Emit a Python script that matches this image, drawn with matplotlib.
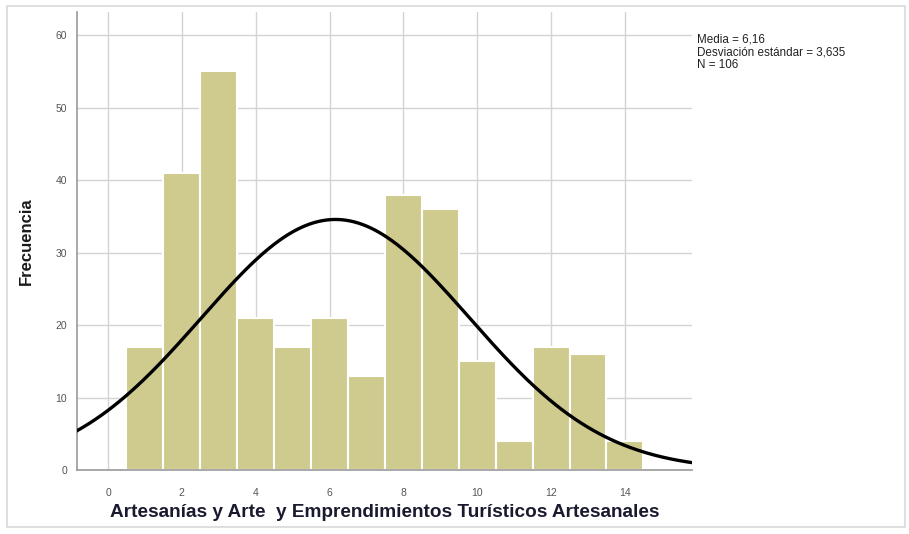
import numpy as np
import matplotlib.pyplot as plt
from matplotlib.patches import Rectangle

plt.rcParams['font.family'] = ['Liberation Sans', 'DejaVu Sans']

# histogram counts per integer score
scores = [1, 2, 3, 4, 5, 6, 7, 8, 9, 10, 11, 12, 13, 14]
counts = [17, 41, 55, 21, 17, 21, 13, 38, 36, 15, 4, 17, 16, 4]

media = 6.16
desv = 3.635
n_label = 106

xticks = [0, 2, 4, 6, 8, 10, 12, 14]
yticks = [0, 10, 20, 30, 40, 50, 60]

fig = plt.figure(figsize=(9.09, 5.34), dpi=100)
fig.patches.append(Rectangle((0.008, 0.013), 0.988, 0.975, transform=fig.transFigure,
                             fill=False, edgecolor='#d9d9d9', linewidth=1.2))
ax = fig.add_axes([0.0847, 0.1199, 0.6763, 0.8576])

ax.bar(scores, counts, width=1.0, color='#cfca8d', edgecolor='white', linewidth=1.5, zorder=2)

# normal curve scaled to the histogram area
x = np.linspace(-0.84, 15.81, 300)
area = sum(counts) * 1.0
y = area / (desv * np.sqrt(2 * np.pi)) * np.exp(-0.5 * ((x - media) / desv) ** 2)
ax.plot(x, y, color='black', linewidth=2.4, zorder=3)

ax.set_xlim(-0.84, 15.81)
ax.set_ylim(0, 63.2)
ax.set_xticks(xticks)
ax.set_yticks(yticks)
ax.tick_params(length=0, labelsize=7.5, labelcolor='#555555')
ax.tick_params(axis='x', pad=13)
ax.tick_params(axis='y', pad=7)
ax.grid(True, color='#d4d4d4', linewidth=1.0, zorder=0)
ax.set_axisbelow(True)
for side in ['top', 'right']:
    ax.spines[side].set_visible(False)
for side in ['left', 'bottom']:
    ax.spines[side].set_color('#999999')
    ax.spines[side].set_linewidth(1.2)

ax.set_xlabel('Artesanías y Arte  y Emprendimientos Turísticos Artesanales',
              fontsize=13.7, fontweight='bold', color='#1a1a2e', labelpad=4)
ax.set_ylabel('Frecuencia', fontsize=12, fontweight='bold', color='#1a1a1a', labelpad=16)

fig.text(0.767, 0.938, 'Media = %s\nDesviación estándar = %s\nN = %d'
         % (str(media).replace('.', ','), str(desv).replace('.', ','), n_label),
         fontsize=8.4, color='#222222', va='top', linespacing=1.1)

fig.savefig('out.png', dpi=100)
